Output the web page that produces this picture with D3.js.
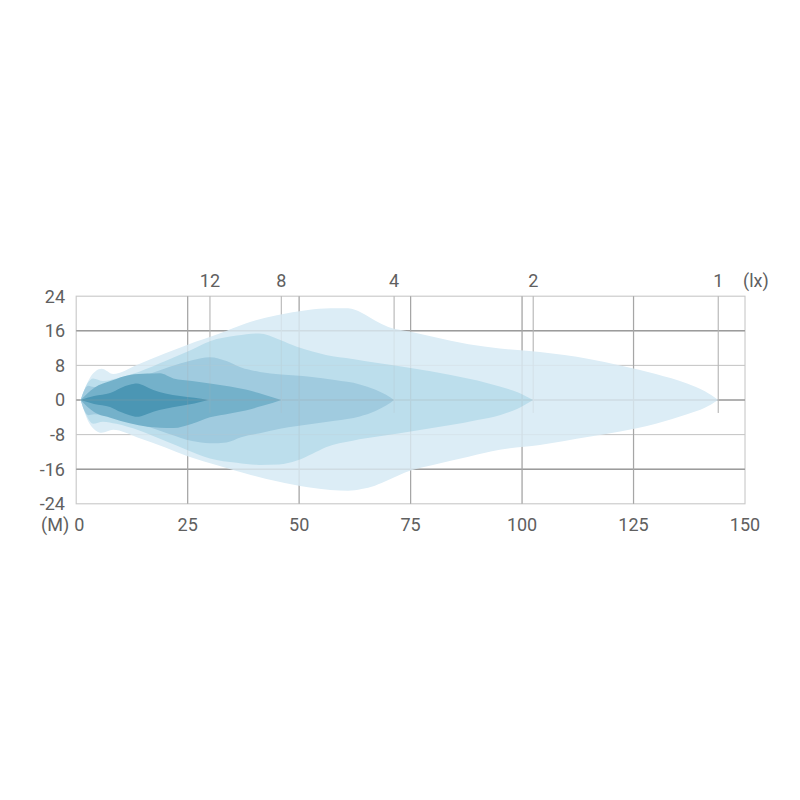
<!DOCTYPE html>
<html>
<head>
<meta charset="utf-8">
<script src="https://cdn.jsdelivr.net/npm/d3@7"></script>
<style>
  html, body { margin: 0; padding: 0; background: #ffffff; }
  svg { display: block; }
  text { font-family: Roboto, "Open Sans", sans-serif; font-weight: 400; fill: #606060; }
</style>
</head>
<body>
<svg id="chart" width="800" height="800"></svg>
<script>
// ---------- data ----------
const xTicks = [0, 25, 50, 75, 100, 125, 150];
const yTicks = [24, 16, 8, 0, -8, -16, -24];
const luxLabels = ["12", "8", "4", "2", "1"];
const luxDistances = [30, 46, 71.3, 102.5, 144];

// isolux contours: distance (m), upper edge (m), lower edge (m)
const lux1X      = [1, 3, 5.7, 8.3, 13.6, 20, 25, 32, 38, 45, 52, 57, 61, 64, 67, 70, 75, 80, 88, 95, 104, 115, 122, 130, 137, 141, 144];
const lux1Top    = [0, 5, 7.2, 6, 8.1, 10.8, 12.8, 15.3, 17.7, 19.6, 20.8, 21.2, 21.2, 20.2, 18.4, 16.9, 15.8, 14.6, 12.9, 11.9, 11.1, 9.5, 8, 6, 3.8, 2, 0];
const lux1Bottom = [0, -5.5, -7.6, -6.9, -8.6, -11, -13, -15.2, -17, -18.8, -20.2, -20.8, -21, -20.6, -19.8, -18.5, -16.3, -15, -13.1, -11.5, -10.4, -8.5, -7.3, -5.5, -3.3, -1.8, 0];

const lux2X      = [1, 2.5, 3.8, 6, 9, 14, 20, 25, 30, 36, 41, 45.5, 49.5, 53, 56, 62, 68, 75, 84, 90, 95, 99, 102.5];
const lux2Top    = [0, 3.8, 5, 4.4, 5, 6.5, 9, 11.2, 13.6, 14.9, 15.4, 14, 12.3, 11.2, 10.4, 9.5, 8.5, 7.4, 5.8, 4.5, 3.1, 1.8, 0];
const lux2Bottom = [0, -4, -5.5, -5, -5.5, -7, -9.5, -11.6, -13.5, -14.5, -15, -14.9, -14.0, -12.4, -10.9, -9.4, -8.4, -7.3, -5.8, -4.6, -3.5, -2, 0];

const lux4X      = [1, 2, 2.7, 4, 8, 14, 21, 26, 30, 33.7, 37, 41.2, 46, 52.4, 58, 63.6, 67, 69.5, 71.3];
const lux4Top    = [0, 2.6, 3.3, 3, 3.6, 5.2, 7.7, 9.2, 9.9, 9, 7.5, 6.5, 5.9, 5.4, 4.6, 3.6, 2.4, 1.2, 0];
const lux4Bottom = [0, -2.8, -3.5, -3.3, -4, -5.5, -7.9, -9.5, -10, -9.8, -8.6, -7.7, -6.6, -5.6, -4.8, -3.8, -2.6, -1.3, 0];

const lux8X      = [1, 4, 8, 12, 16, 18.8, 21.8, 26, 30, 34.5, 38, 42, 46];
const lux8Top    = [0, 2.8, 4.5, 5.8, 6.1, 6.2, 5.0, 4.4, 3.8, 3.1, 2.4, 1.3, 0];
const lux8Bottom = [0, -2.8, -4.2, -5.4, -6.2, -6.4, -6.5, -5.5, -4, -3.1, -2.4, -1.3, 0];

const lux12X      = [1, 4, 7.6, 10, 12, 13.6, 15.5, 17.3, 20, 23.3, 26.5, 29.6];
const lux12Top    = [0, 0.9, 1.6, 2.8, 3.5, 3.8, 3.2, 2.3, 1.5, 0.9, 0.5, 0];
const lux12Bottom = [0, -0.9, -1.6, -2.8, -3.5, -3.9, -3.4, -2.7, -2, -1.4, -0.8, 0];

const contourColors = ["#dcedf6", "#bcdeec", "#a0cbdf", "#74b1ca", "#4b96b4"];

// ---------- drawing ----------
const svg = d3.select("#chart");
const x = d3.scaleLinear().domain([0, 150]).range([76.2, 745]);
const y = d3.scaleLinear().domain([-24, 24]).range([503.8, 296.2]);

const layers = [
  [lux1X, lux1Top, lux1Bottom],
  [lux2X, lux2Top, lux2Bottom],
  [lux4X, lux4Top, lux4Bottom],
  [lux8X, lux8Top, lux8Bottom],
  [lux12X, lux12Top, lux12Bottom]
].map(([xs, tops, bots]) => xs.map((d, i) => ({ d, t: tops[i], b: bots[i] })));

function drawGrid(g) {
  g.append("rect")
    .attr("x", x(0)).attr("y", y(24))
    .attr("width", x(150) - x(0)).attr("height", y(-24) - y(24))
    .attr("fill", "none").attr("stroke", "#c8c8c8").attr("stroke-width", 1);
  yTicks.filter(v => Math.abs(v) < 24).forEach(v => {
    const major = v % 16 === 0;
    g.append("line")
      .attr("x1", x(0)).attr("x2", x(150))
      .attr("y1", y(v)).attr("y2", y(v))
      .attr("stroke", major ? "#9c9c9c" : "#c6c6c6")
      .attr("stroke-width", major ? 1.6 : 1);
  });
  xTicks.filter(v => v > 0 && v < 150).forEach(v => {
    g.append("line")
      .attr("x1", x(v)).attr("x2", x(v))
      .attr("y1", y(24)).attr("y2", y(-24))
      .attr("stroke", "#a6a6a6").attr("stroke-width", 1.2);
  });
  luxDistances.forEach(v => {
    g.append("line")
      .attr("x1", x(v)).attr("x2", x(v))
      .attr("y1", y(24)).attr("y2", y(-3))
      .attr("stroke", "#b4b4b4").attr("stroke-width", 1);
  });
}

drawGrid(svg.append("g"));

const area = d3.area()
  .x(p => x(p.d))
  .y0(p => y(p.b))
  .y1(p => y(p.t))
  .curve(d3.curveMonotoneX);

svg.append("g").selectAll("path")
  .data(layers)
  .join("path")
  .attr("d", area)
  .attr("fill", (d, i) => contourColors[i]);

drawGrid(svg.append("g").attr("opacity", 0.2));

// y labels
svg.append("g").selectAll("text")
  .data(yTicks)
  .join("text")
  .attr("x", 65)
  .attr("y", v => y(v))
  .attr("dy", "0.36em")
  .attr("text-anchor", "end")
  .attr("font-size", 18)
  .text(v => v);

// x labels
svg.append("g").selectAll("text")
  .data(xTicks)
  .join("text")
  .attr("x", v => x(v) + (v === 0 ? 3 : 0))
  .attr("y", 531)
  .attr("text-anchor", "middle")
  .attr("font-size", 18)
  .text(v => v);

svg.append("text")
  .attr("x", 41).attr("y", 531)
  .attr("font-size", 18)
  .text("(M)");

// lux labels
svg.append("g").selectAll("text")
  .data(luxDistances)
  .join("text")
  .attr("x", v => x(v))
  .attr("y", 287)
  .attr("text-anchor", "middle")
  .attr("font-size", 18)
  .text((v, i) => luxLabels[i]);

svg.append("text")
  .attr("x", 743).attr("y", 287)
  .attr("font-size", 18)
  .text("(lx)");
</script>
</body>
</html>
